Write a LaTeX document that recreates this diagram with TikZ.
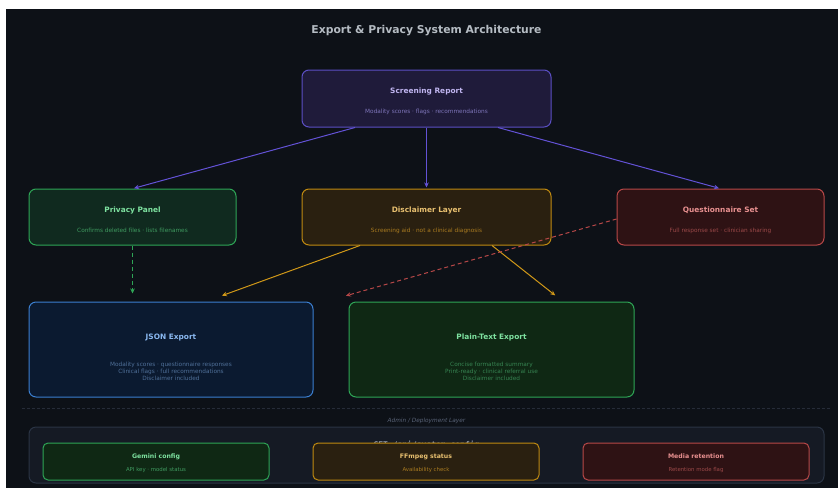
\documentclass[tikz,border=0pt]{standalone}
\usepackage{fontspec}
\setmainfont{DejaVu Sans}
\setmonofont{DejaVu Sans Mono}
\usetikzlibrary{arrows.meta}

\definecolor{bgdark}{HTML}{0D1117}
\definecolor{titlegrey}{HTML}{C9D1D9}
% purple
\definecolor{pufill}{HTML}{1F1B3A}
\definecolor{pudraw}{HTML}{5B4FC4}
\definecolor{putext}{HTML}{C0B5F0}
\definecolor{pusub}{HTML}{7D74B8}
\definecolor{puarrow}{HTML}{6352D6}
% green
\definecolor{grfill}{HTML}{102A1F}
\definecolor{grdraw}{HTML}{2EA556}
\definecolor{grtext}{HTML}{7EE2A0}
\definecolor{grsub}{HTML}{3F9A5F}
\definecolor{grfillb}{HTML}{0F2814}
% amber
\definecolor{amfill}{HTML}{2A2010}
\definecolor{amdraw}{HTML}{C08A10}
\definecolor{amtext}{HTML}{E8C070}
\definecolor{amsub}{HTML}{A87A20}
\definecolor{amarrow}{HTML}{D09818}
% red
\definecolor{rdfill}{HTML}{2E1214}
\definecolor{rddraw}{HTML}{B84848}
\definecolor{rdtext}{HTML}{E89090}
\definecolor{rdsub}{HTML}{9A4848}
% blue
\definecolor{blfill}{HTML}{0B1A30}
\definecolor{bldraw}{HTML}{3B7FD0}
\definecolor{bltext}{HTML}{8AB8F0}
\definecolor{blsub}{HTML}{4F6F98}
% admin
\definecolor{adfill}{HTML}{151A24}
\definecolor{addraw}{HTML}{2A3444}
\definecolor{adtext}{HTML}{5A6478}
\definecolor{admono}{HTML}{8890A0}
\definecolor{sepline}{HTML}{262C38}

\tikzset{
  box/.style={draw, rounded corners=7pt, line width=1pt, inner sep=0pt},
  smallbox/.style={draw, rounded corners=5pt, line width=1pt, inner sep=0pt},
  ttl/.style={font=\bfseries\fontsize{7.4}{9}\selectfont, inner sep=0pt},
  sub/.style={font=\fontsize{5.8}{7}\selectfont, inner sep=0pt, align=center},
  attl/.style={font=\bfseries\fontsize{6.2}{7}\selectfont, inner sep=0pt},
  asub/.style={font=\fontsize{5.4}{6.5}\selectfont, inner sep=0pt},
  flow/.style={line width=1pt, -{Stealth[length=5pt,width=4.5pt]}, shorten >=1pt},
}

\begin{document}
\begin{tikzpicture}[x=1pt,y=-1pt]
  \useasboundingbox (0,0) rectangle (838,488);
  \fill[white] (0,0) rectangle (838,488);
  \fill[bgdark] (6,9) rectangle (838,488);

  % heading
  \node[font=\bfseries\fontsize{10.8}{12}\selectfont, text=titlegrey!90!black] (head) at (426.5,31) {Export \& Privacy System Architecture};

  % top: screening report
  \node[box, fill=pufill, draw=pudraw, minimum width=249pt, minimum height=57pt] (sr) at (426.5,98.5) {};
  \node[ttl, text=putext] (srt) at (426.5,91.5) {Screening Report};
  \node[sub, text=pusub] (srs) at (426.5,111.5) {Modality scores · flags · recommendations};

  % middle row
  \node[box, fill=grfill, draw=grdraw, minimum width=207pt, minimum height=56pt] (pp) at (132.5,217) {};
  \node[ttl, text=grtext] (ppt) at (132.5,210) {Privacy Panel};
  \node[sub, text=grsub] (pps) at (132.5,230.5) {Confirms deleted files · lists filenames};

  \node[box, fill=amfill, draw=amdraw, minimum width=249pt, minimum height=56pt] (dl) at (426.5,217) {};
  \node[ttl, text=amtext] (dlt) at (426.5,210) {Disclaimer Layer};
  \node[sub, text=amsub] (dls) at (426.5,230.5) {Screening aid · not a clinical diagnosis};

  \node[box, fill=rdfill, draw=rddraw, minimum width=207pt, minimum height=56pt] (qs) at (720.5,217) {};
  \node[ttl, text=rdtext] (qst) at (720.5,210) {Questionnaire Set};
  \node[sub, text=rdsub] (qss) at (720.5,230.5) {Full response set · clinician sharing};

  % export row
  \node[box, fill=blfill, draw=bldraw, minimum width=284pt, minimum height=95pt] (js) at (171,349.5) {};
  \node[ttl, text=bltext] (jst) at (171,337.5) {JSON Export};
  \node[sub, text=blsub] (jss) at (171,371.5) {Modality scores · questionnaire responses\\Clinical flags · full recommendations\\Disclaimer included};

  \node[box, fill=grfillb, draw=grdraw, minimum width=285pt, minimum height=95pt] (pt) at (491.5,349.5) {};
  \node[ttl, text=grtext] (ptt) at (491.5,337.5) {Plain-Text Export};
  \node[sub, text=grsub!85!black] (pts) at (491.5,371.5) {Concise formatted summary\\Print-ready · clinical referral use\\Disclaimer included};

  % connectors
  \draw[flow, puarrow] (sr.south -| 355,0) -- (pp.north -| 133,0);
  \draw[flow, puarrow] (sr.south) -- (dl.north);
  \draw[flow, puarrow] (sr.south -| 498,0) -- (qs.north -| 720,0);
  \draw[flow, grdraw, dashed, dash pattern=on 4pt off 3pt] (pp.south) -- ([yshift=7pt]js.north -| pp.south);
  \coordinate (jsin) at (221,296);
  \coordinate (ptin) at (556,296);
  \coordinate (qsend) at (345,296);
  \draw[flow, amarrow] (dl.south -| 360,0) -- (jsin);
  \draw[flow, amarrow] (dl.south -| 492,0) -- (ptin);
  \draw[flow, rddraw, dashed, dash pattern=on 4pt off 3pt] (qs.west) ++(0,2) -- (qsend);

  % admin / deployment layer
  \draw[sepline, dashed, dash pattern=on 3pt off 2pt, line width=0.6pt] (22,408) -- (830,408);
  \node[font=\itshape\fontsize{5.8}{7}\selectfont, text=adtext] (adl) at (426.5,420.5) {Admin / Deployment Layer};
  \node[box, fill=adfill, draw=addraw, minimum width=795pt, minimum height=56pt] (adm) at (426.5,455) {};
  \node[font=\ttfamily\bfseries\fontsize{8}{9}\selectfont, text=admono, inner sep=0pt] (api) at (426.5,445) {GET /api/system-config};

  \node[smallbox, fill=grfillb, draw=grdraw, minimum width=226pt, minimum height=37pt] (gm) at (156,461.5) {};
  \node[attl, text=grtext] (gmt) at (156,456.5) {Gemini config};
  \node[asub, text=grsub] (gms) at (156,470.5) {API key · model status};

  \node[smallbox, fill=amfill, draw=amdraw, minimum width=226pt, minimum height=37pt] (ff) at (426,461.5) {};
  \node[attl, text=amtext] (fft) at (426,456.5) {FFmpeg status};
  \node[asub, text=amsub] (ffs) at (426,470.5) {Availability check};

  \node[smallbox, fill=rdfill, draw=rddraw, minimum width=226pt, minimum height=37pt] (mr) at (696,461.5) {};
  \node[attl, text=rdtext] (mrt) at (696,456.5) {Media retention};
  \node[asub, text=rdsub] (mrs) at (696,470.5) {Retention mode flag};
\end{tikzpicture}
\end{document}
